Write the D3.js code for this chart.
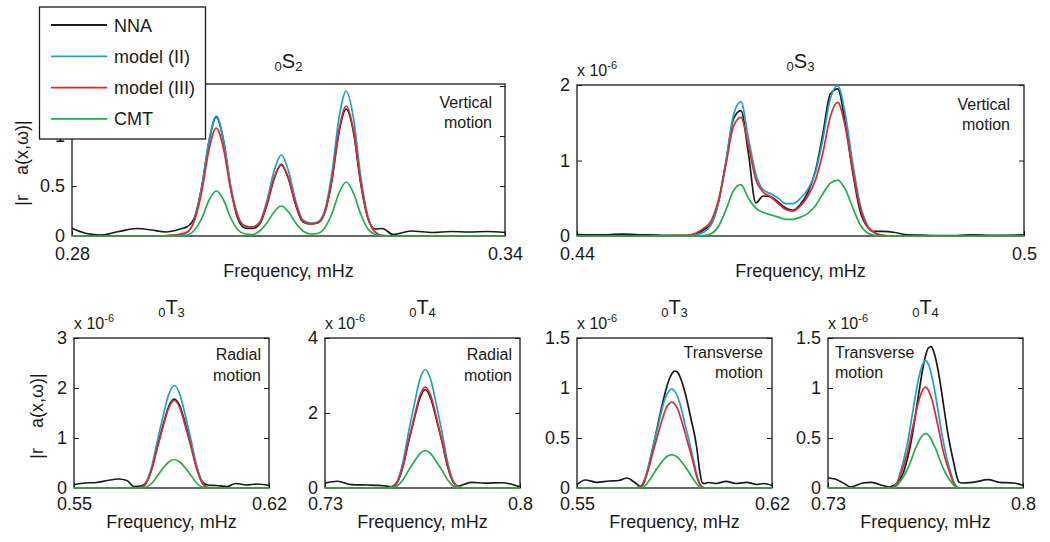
<!DOCTYPE html>
<html>
<head>
<meta charset="utf-8">
<title>Normal mode spectra</title>
<script src="https://d3js.org/d3.v7.min.js"></script>
<style>
  body { margin: 0; background: #fff; }
  svg text { font-family: "Liberation Sans", Arial, Helvetica, sans-serif; fill: #1a1a1a; }
</style>
</head>
<body>
<div id="chart"></div>
<script>

// ---- series (amplitude, x 10^-6) ----
var seriesNames = ["NNA", "model (II)", "model (III)", "CMT"];
var seriesColors = ["#1a1a1a", "#1c9fd2", "#e5262b", "#21ad4b"];

// 0S2, vertical motion
var s2Freq = [0.280, 0.282, 0.284, 0.2865, 0.289, 0.291, 0.293,
  0.295, 0.296, 0.297, 0.298, 0.299, 0.300, 0.301, 0.302, 0.303, 0.304, 0.305, 0.306, 0.307, 0.308, 0.309,
  0.310, 0.311, 0.312, 0.313, 0.314, 0.315, 0.316, 0.317, 0.318, 0.319, 0.320, 0.321, 0.322, 0.323,
  0.3245, 0.327, 0.330, 0.3325, 0.335, 0.3375, 0.340];
var s2NNA = [0.077, 0.025, 0.01, 0.045, 0.075, 0.06, 0.04,
  0.07, 0.095, 0.19, 0.50, 0.95, 1.19, 0.95, 0.48, 0.17, 0.08, 0.075, 0.12, 0.31, 0.57, 0.71,
  0.57, 0.31, 0.14, 0.12, 0.13, 0.23, 0.55, 1.04, 1.27, 1.04, 0.53, 0.18, 0.07, 0.075,
  0.015, 0.05, 0.035, 0.045, 0.04, 0.045, 0.035];
var s2Model2 = [0, 0, 0, 0, 0, 0, 0,
  0.01, 0.04, 0.17, 0.50, 0.96, 1.20, 0.96, 0.50, 0.20, 0.10, 0.09, 0.14, 0.35, 0.65, 0.81,
  0.65, 0.35, 0.16, 0.13, 0.14, 0.25, 0.62, 1.18, 1.45, 1.18, 0.60, 0.20, 0.04, 0.005,
  0, 0, 0, 0, 0, 0, 0];
var s2Model3 = [0, 0, 0, 0, 0, 0, 0.005,
  0.02, 0.04, 0.16, 0.45, 0.87, 1.08, 0.87, 0.46, 0.19, 0.10, 0.09, 0.13, 0.32, 0.58, 0.72,
  0.58, 0.32, 0.15, 0.12, 0.13, 0.23, 0.56, 1.06, 1.30, 1.06, 0.54, 0.18, 0.04, 0.005,
  0, 0, 0, 0, 0, 0, 0];
var s2CMT = [0, 0, 0, 0, 0, 0, 0,
  0, 0.01, 0.06, 0.18, 0.36, 0.45, 0.36, 0.18, 0.06, 0.02, 0.015, 0.05, 0.13, 0.24, 0.30,
  0.24, 0.13, 0.05, 0.02, 0.025, 0.08, 0.22, 0.43, 0.54, 0.43, 0.22, 0.07, 0.015, 0,
  0, 0, 0, 0, 0, 0, 0];

// 0S3, vertical motion
var s3Freq = [0.440, 0.443, 0.446, 0.449, 0.4515, 0.4535,
  0.455, 0.456, 0.457, 0.458, 0.459, 0.460, 0.461, 0.462, 0.463, 0.464, 0.465, 0.466, 0.467, 0.468,
  0.469, 0.470, 0.471, 0.472, 0.473, 0.474, 0.475, 0.476, 0.477, 0.478, 0.479, 0.480, 0.481,
  0.4825, 0.484, 0.487, 0.490, 0.493, 0.496, 0.500];
var s3NNA = [0.02, 0.015, 0.025, 0.015, 0.01, 0.01,
  0.01, 0.03, 0.08, 0.16, 0.45, 0.98, 1.55, 1.66, 1.10, 0.44, 0.53, 0.52, 0.45, 0.37,
  0.34, 0.42, 0.58, 0.86, 1.35, 1.88, 1.95, 1.50, 0.85, 0.33, 0.12, 0.06, 0.06,
  0.05, 0.02, 0.01, 0.005, 0.015, 0.01, 0.015];
var s3Model2 = [0, 0, 0, 0, 0, 0,
  0.005, 0.02, 0.05, 0.15, 0.45, 1.00, 1.60, 1.78, 1.30, 0.82, 0.61, 0.56, 0.50, 0.43,
  0.43, 0.50, 0.62, 0.84, 1.28, 1.82, 1.99, 1.62, 0.97, 0.42, 0.14, 0.04, 0.01,
  0, 0, 0, 0, 0, 0, 0];
var s3Model3 = [0, 0, 0, 0, 0, 0.005,
  0.01, 0.04, 0.10, 0.20, 0.48, 0.95, 1.45, 1.57, 1.20, 0.75, 0.58, 0.52, 0.43, 0.35,
  0.33, 0.40, 0.53, 0.74, 1.10, 1.58, 1.77, 1.45, 0.88, 0.38, 0.12, 0.04, 0.01,
  0, 0, 0, 0, 0, 0, 0];
var s3CMT = [0, 0, 0, 0, 0, 0,
  0, 0, 0.005, 0.03, 0.13, 0.35, 0.60, 0.68, 0.50, 0.37, 0.31, 0.28, 0.25, 0.22,
  0.22, 0.25, 0.30, 0.40, 0.56, 0.70, 0.74, 0.62, 0.38, 0.15, 0.04, 0.01, 0,
  0, 0, 0, 0, 0, 0, 0];

// 0T3, radial motion
var t3rFreq = [0.550, 0.554, 0.558, 0.562, 0.566, 0.569, 0.5715,
  0.574, 0.576, 0.578, 0.580, 0.582, 0.584, 0.586, 0.588, 0.590, 0.592, 0.594, 0.596, 0.598,
  0.601, 0.605, 0.608, 0.612, 0.6155, 0.620];
var t3rNNA = [0.067, 0.10, 0.11, 0.15, 0.18, 0.15, 0.03,
  0.04, 0.12, 0.40, 0.84, 1.26, 1.63, 1.78, 1.64, 1.28, 0.86, 0.42, 0.13, 0.06,
  0.05, 0.03, 0.09, 0.06, 0.08, 0.05];
var t3rModel2 = [0, 0, 0, 0, 0, 0, 0,
  0.01, 0.12, 0.45, 0.96, 1.44, 1.87, 2.05, 1.87, 1.44, 0.96, 0.45, 0.12, 0.01,
  0, 0, 0, 0, 0, 0];
var t3rModel3 = [0, 0, 0, 0, 0, 0, 0,
  0.01, 0.10, 0.39, 0.82, 1.23, 1.60, 1.75, 1.60, 1.23, 0.82, 0.39, 0.10, 0.01,
  0, 0, 0, 0, 0, 0];
var t3rCMT = [0, 0, 0, 0, 0, 0, 0,
  0, 0.02, 0.10, 0.25, 0.40, 0.52, 0.57, 0.52, 0.40, 0.25, 0.10, 0.02, 0,
  0, 0, 0, 0, 0, 0];

// 0T4, radial motion
var t4rFreq = [0.730, 0.7345, 0.7395, 0.745, 0.7495,
  0.752, 0.754, 0.756, 0.758, 0.760, 0.762, 0.764, 0.766, 0.768, 0.770, 0.772, 0.774, 0.776, 0.778, 0.780,
  0.7825, 0.7875, 0.7935, 0.797, 0.800];
var t4rNNA = [0.13, 0.18, 0.09, 0.08, 0.07,
  0.05, 0.04, 0.16, 0.58, 1.23, 1.83, 2.38, 2.62, 2.38, 1.83, 1.23, 0.58, 0.16, 0.05, 0.10,
  0.15, 0.13, 0.14, 0.10, 0.03];
var t4rModel2 = [0, 0, 0, 0, 0,
  0, 0.03, 0.19, 0.70, 1.49, 2.21, 2.88, 3.16, 2.88, 2.21, 1.49, 0.70, 0.19, 0.03, 0,
  0, 0, 0, 0, 0];
var t4rModel3 = [0, 0, 0, 0, 0,
  0, 0.03, 0.16, 0.59, 1.26, 1.88, 2.45, 2.69, 2.45, 1.88, 1.26, 0.59, 0.16, 0.03, 0,
  0, 0, 0, 0, 0];
var t4rCMT = [0, 0, 0, 0, 0,
  0, 0.01, 0.06, 0.22, 0.47, 0.70, 0.91, 1.00, 0.91, 0.70, 0.47, 0.22, 0.06, 0.01, 0,
  0, 0, 0, 0, 0];

// 0T3, transverse motion
var t3tFreq = [0.550, 0.553, 0.557, 0.5615, 0.565, 0.568, 0.5705,
  0.573, 0.574, 0.575, 0.576, 0.577, 0.578, 0.579, 0.580, 0.581, 0.582, 0.583, 0.584, 0.585,
  0.586, 0.587, 0.588, 0.589, 0.590, 0.591, 0.592, 0.593, 0.594, 0.595, 0.596, 0.597,
  0.600, 0.6035, 0.607, 0.611, 0.6145, 0.617, 0.620];
var t3tNNA = [0.033, 0.08, 0.057, 0.07, 0.075, 0.10, 0.06,
  0.015, 0.05, 0.14, 0.25, 0.37, 0.50, 0.63, 0.76, 0.88, 0.99, 1.08, 1.14, 1.17,
  1.16, 1.11, 1.03, 0.93, 0.81, 0.68, 0.56, 0.40, 0.18, 0.05, 0.045, 0.055,
  0.045, 0.067, 0.045, 0.057, 0.035, 0.045, 0.025];
var t3tModel2 = [0, 0, 0, 0, 0, 0, 0,
  0.02, 0.07, 0.15, 0.26, 0.38, 0.50, 0.61, 0.73, 0.84, 0.92, 0.97, 0.99, 0.97,
  0.92, 0.84, 0.73, 0.61, 0.50, 0.38, 0.26, 0.13, 0.05, 0.01, 0, 0,
  0, 0, 0, 0, 0, 0, 0];
var t3tModel3 = [0, 0, 0, 0, 0, 0, 0,
  0.02, 0.06, 0.13, 0.22, 0.33, 0.43, 0.53, 0.63, 0.72, 0.80, 0.84, 0.86, 0.84,
  0.80, 0.72, 0.63, 0.53, 0.43, 0.33, 0.22, 0.11, 0.04, 0.01, 0, 0,
  0, 0, 0, 0, 0, 0, 0];
var t3tCMT = [0, 0, 0, 0, 0, 0, 0,
  0, 0.01, 0.04, 0.08, 0.12, 0.165, 0.205, 0.245, 0.28, 0.31, 0.325, 0.333, 0.325,
  0.31, 0.28, 0.245, 0.205, 0.165, 0.12, 0.08, 0.04, 0.01, 0, 0, 0,
  0, 0, 0, 0, 0, 0, 0];

// 0T4, transverse motion
var t4tFreq = [0.730, 0.7325, 0.7365, 0.738, 0.7425, 0.7455, 0.7485,
  0.752, 0.753, 0.754, 0.755, 0.756, 0.757, 0.758, 0.759, 0.760, 0.761, 0.762, 0.763, 0.764,
  0.765, 0.766, 0.767, 0.768, 0.769, 0.770, 0.771, 0.772, 0.773, 0.774, 0.775, 0.776, 0.777, 0.778,
  0.782, 0.7875, 0.7915, 0.7965, 0.800];
var t4tNNA = [0.10, 0.09, 0.033, 0.01, 0.05, 0.057, 0.035,
  0.01, 0.02, 0.03, 0.055, 0.095, 0.15, 0.24, 0.35, 0.49, 0.66, 0.84, 1.02, 1.19,
  1.32, 1.40, 1.414, 1.36, 1.25, 1.10, 0.92, 0.73, 0.55, 0.40, 0.27, 0.14, 0.06, 0.05,
  0.057, 0.083, 0.057, 0.05, 0.027];
var t4tModel2 = [0, 0, 0, 0, 0, 0, 0,
  0, 0, 0.02, 0.07, 0.16, 0.26, 0.38, 0.52, 0.69, 0.86, 1.02, 1.15, 1.24,
  1.273, 1.24, 1.15, 1.02, 0.86, 0.69, 0.52, 0.38, 0.26, 0.16, 0.07, 0.02, 0, 0,
  0, 0, 0, 0, 0];
var t4tModel3 = [0, 0, 0, 0, 0, 0, 0,
  0, 0, 0.015, 0.055, 0.13, 0.21, 0.30, 0.41, 0.55, 0.68, 0.81, 0.91, 0.98,
  1.01, 0.98, 0.91, 0.81, 0.68, 0.55, 0.41, 0.30, 0.21, 0.13, 0.055, 0.015, 0, 0,
  0, 0, 0, 0, 0];
var t4tCMT = [0, 0, 0, 0, 0, 0, 0,
  0, 0, 0.01, 0.03, 0.07, 0.11, 0.16, 0.22, 0.29, 0.37, 0.43, 0.49, 0.53,
  0.543, 0.53, 0.49, 0.43, 0.37, 0.29, 0.22, 0.16, 0.11, 0.07, 0.03, 0.01, 0, 0,
  0, 0, 0, 0, 0];

// ---- panel layout ----
var panels = [
  { freq: s2Freq, series: [s2NNA, s2Model2, s2Model3, s2CMT],
    left: 72, top: 84, width: 433, height: 152, xDomain: [0.28, 0.34], yMax: 1.52,
    yTicks: [0, 0.5, 1, 1.5], title: ["0", "S", "2"], titleY: 68, xPad: 11, labelY: 277,
    note: ["Vertical", "motion"], noteAnchor: "end", noteX: 492, noteY: 108, noteGap: 20, yLabelX: 28 },
  { freq: s3Freq, series: [s3NNA, s3Model2, s3Model3, s3CMT],
    left: 577, top: 85, width: 447, height: 151, xDomain: [0.44, 0.5], yMax: 2,
    yTicks: [0, 1, 2], title: ["0", "S", "3"], titleY: 68, xPad: 11, labelY: 277,
    note: ["Vertical", "motion"], noteAnchor: "end", noteX: 1010, noteY: 110, noteGap: 20, scale: true },
  { freq: t3rFreq, series: [t3rNNA, t3rModel2, t3rModel3, t3rCMT],
    left: 74, top: 338, width: 195, height: 150, xDomain: [0.55, 0.62], yMax: 3,
    yTicks: [0, 1, 2, 3], title: ["0", "T", "3"], titleY: 314, xPad: 9, labelY: 528,
    note: ["Radial", "motion"], noteAnchor: "end", noteX: 261, noteY: 360, noteGap: 21, scale: true, yLabelX: 43 },
  { freq: t4rFreq, series: [t4rNNA, t4rModel2, t4rModel3, t4rCMT],
    left: 325, top: 338, width: 195, height: 150, xDomain: [0.73, 0.8], yMax: 4,
    yTicks: [0, 2, 4], title: ["0", "T", "4"], titleY: 314, xPad: 9, labelY: 528,
    note: ["Radial", "motion"], noteAnchor: "end", noteX: 512, noteY: 360, noteGap: 21, scale: true },
  { freq: t3tFreq, series: [t3tNNA, t3tModel2, t3tModel3, t3tCMT],
    left: 577, top: 338, width: 195, height: 150, xDomain: [0.55, 0.62], yMax: 1.5,
    yTicks: [0, 0.5, 1, 1.5], title: ["0", "T", "3"], titleY: 314, xPad: 9, labelY: 528,
    note: ["Transverse", "motion"], noteAnchor: "end", noteX: 763, noteY: 358, noteGap: 20, scale: true },
  { freq: t4tFreq, series: [t4tNNA, t4tModel2, t4tModel3, t4tCMT],
    left: 828, top: 338, width: 195, height: 150, xDomain: [0.73, 0.8], yMax: 1.5,
    yTicks: [0, 0.5, 1, 1.5], title: ["0", "T", "4"], titleY: 314, xPad: 9, labelY: 528,
    note: ["Transverse", "motion"], noteAnchor: "start", noteX: 835, noteY: 358, noteGap: 20, scale: true }
];

var svg = d3.select("#chart").append("svg")
  .attr("width", 1050)
  .attr("height", 542);

svg.append("rect").attr("width", 1050).attr("height", 542).attr("fill", "#fff");

function styleAxis(sel) {
  sel.select(".domain").remove();
  sel.attr("font-size", 18)
    .attr("font-family", '"Liberation Sans", Arial, sans-serif')
    .attr("color", "#1a1a1a");
  sel.selectAll(".tick line").attr("stroke-width", 1);
}

function drawPanel(p) {
  var x = d3.scaleLinear().domain(p.xDomain).range([p.left, p.left + p.width]);
  var y = d3.scaleLinear().domain([0, p.yMax]).range([p.top + p.height, p.top]);
  var g = svg.append("g");

  // frame
  g.append("rect")
    .attr("x", p.left).attr("y", p.top)
    .attr("width", p.width).attr("height", p.height)
    .attr("fill", "none").attr("stroke", "#1a1a1a").attr("stroke-width", 1.3);

  // axes, ticks pointing inward like matlab
  g.append("g")
    .attr("transform", "translate(" + p.left + ",0)")
    .call(d3.axisLeft(y).tickValues(p.yTicks).tickSizeInner(-5).tickSizeOuter(0)
      .tickPadding(7).tickFormat(function (d) { return String(d); }))
    .call(styleAxis);
  g.append("g")
    .attr("transform", "translate(" + (p.left + p.width) + ",0)")
    .call(d3.axisRight(y).tickValues(p.yTicks).tickSizeInner(-5).tickSizeOuter(0).tickFormat(""))
    .call(styleAxis);
  g.append("g")
    .attr("transform", "translate(0," + (p.top + p.height) + ")")
    .call(d3.axisBottom(x).tickValues(p.xDomain).tickSizeInner(-5).tickSizeOuter(0)
      .tickPadding(p.xPad).tickFormat(function (d) { return String(d); }))
    .call(styleAxis);

  // curves
  var line = d3.line()
    .x(function (d, i) { return x(p.freq[i]); })
    .y(function (d) { return y(d); })
    .curve(d3.curveMonotoneX);
  p.series.forEach(function (vals, k) {
    g.append("path")
      .attr("d", line(vals))
      .attr("fill", "none")
      .attr("stroke", seriesColors[k])
      .attr("stroke-width", 1.7)
      .attr("stroke-linejoin", "round");
  });

  // title, e.g. 0S2
  var t = g.append("text")
    .attr("x", p.left + p.width / 2)
    .attr("y", p.titleY)
    .attr("text-anchor", "middle");
  t.append("tspan").attr("font-size", 13).attr("dy", 3).text(p.title[0]);
  t.append("tspan").attr("font-size", 20).attr("dy", -3).text(p.title[1]);
  t.append("tspan").attr("font-size", 13).attr("dy", 3).text(p.title[2]);

  // x label
  g.append("text")
    .attr("x", p.left + p.width / 2)
    .attr("y", p.labelY)
    .attr("text-anchor", "middle")
    .attr("font-size", 18)
    .text("Frequency, mHz");

  // motion note
  p.note.forEach(function (s, i) {
    g.append("text")
      .attr("x", p.noteX)
      .attr("y", p.noteY + i * p.noteGap)
      .attr("text-anchor", p.noteAnchor)
      .attr("font-size", 16)
      .text(s);
  });

  // x 10^-6 multiplier
  if (p.scale) {
    var m = g.append("text")
      .attr("x", p.left)
      .attr("y", p.top - 9)
      .attr("font-size", 16);
    m.append("tspan").text("x 10");
    m.append("tspan").attr("font-size", 11).attr("dy", -7).text("-6");
  }

  // y label
  if (p.yLabelX) {
    var yl = g.append("text")
      .attr("transform", "translate(" + p.yLabelX + "," + (p.top + p.height / 2 + 3) + ") rotate(-90)")
      .attr("text-anchor", "middle")
      .attr("font-size", 18);
    yl.append("tspan").text("|r");
    yl.append("tspan").attr("dx", 20).text("a(x,\u03c9)|");
  }
}

panels.forEach(drawPanel);

// legend (sits over the top-left panel)
var legend = svg.append("g");
legend.append("rect")
  .attr("x", 39.5).attr("y", 7)
  .attr("width", 166).attr("height", 132)
  .attr("fill", "#fff").attr("stroke", "#1a1a1a").attr("stroke-width", 1.3);
seriesNames.forEach(function (name, i) {
  var ly = 25 + i * 31.3;
  legend.append("line")
    .attr("x1", 51).attr("x2", 107)
    .attr("y1", ly).attr("y2", ly)
    .attr("stroke", seriesColors[i]).attr("stroke-width", 1.8);
  legend.append("text")
    .attr("x", 114).attr("y", ly + 6.5)
    .attr("font-size", 18)
    .text(name);
});

</script>
</body>
</html>
